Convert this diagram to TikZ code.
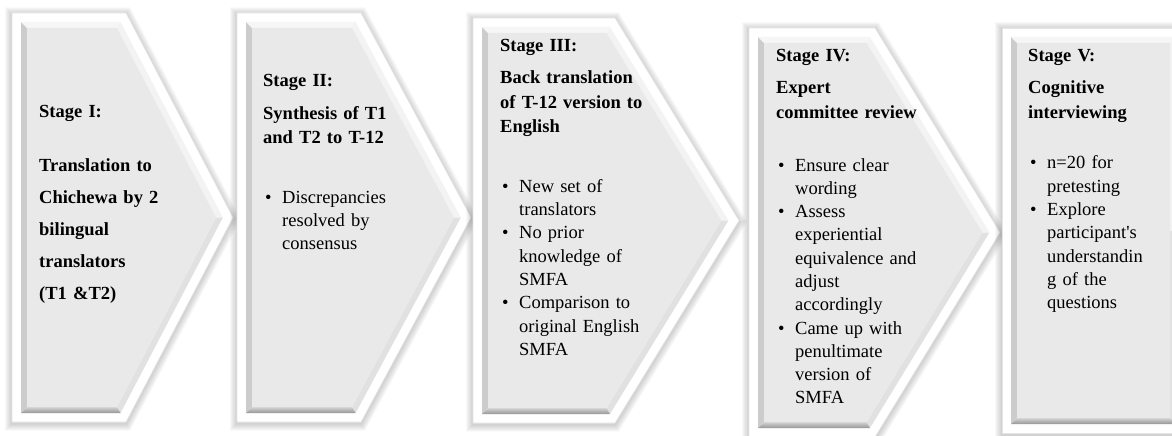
\documentclass[tikz,border=0pt]{standalone}
\usepackage{fontspec}
\setmainfont{Liberation Serif}
\definecolor{mainfill}{RGB}{233,233,233}
\definecolor{bevtop}{RGB}{246,246,246}
\definecolor{bevdiagup}{RGB}{243,243,243}
\definecolor{bevdiaglo}{RGB}{225,225,225}
\definecolor{bevleft}{RGB}{204,204,204}
\definecolor{bevbottop}{RGB}{212,212,212}
\definecolor{bevbotbot}{RGB}{150,150,150}
\newcommand\defpent[7]{%
 \pgfmathsetmacro\pM{(#3+#6)/2}%
 \pgfmathsetmacro\pdx{(#5-#4)/100}%
 \pgfmathsetmacro\pdy{(\pM-#3)/100}%
 \pgfmathsetmacro\plen{sqrt(\pdx*\pdx+\pdy*\pdy)}%
 \pgfmathsetmacro\pcx{#4+#7*(\pdx-\plen)/\pdy}%
 \pgfmathsetmacro\ptx{#5-#7*\plen/\pdy}%
 \coordinate (#1-1) at (#2+#7,#3+#7);%
 \coordinate (#1-2) at (\pcx,#3+#7);%
 \coordinate (#1-3) at (\ptx,\pM);%
 \coordinate (#1-4) at (\pcx,#6-#7);%
 \coordinate (#1-5) at (#2+#7,#6-#7);%
}
\newcommand\stageshape[6]{%
 \defpent{#1o}{#2}{#3}{#4}{#5}{#6}{0}%
 \defpent{#1g}{#2}{#3}{#4}{#5}{#6}{9}%
 \defpent{#1i}{#2}{#3}{#4}{#5}{#6}{15}%
 \foreach \w in {1,...,7}{%
   \pgfmathsetmacro\lw{2*\w}%
   \draw[black,opacity=0.028,line width=\lw pt,line join=miter]
     ([yshift=-1.5pt]#1o-1) -- ([yshift=-1.5pt]#1o-2) -- ([yshift=-1.5pt]#1o-3)
     -- ([yshift=-1.5pt]#1o-4) -- ([yshift=-1.5pt]#1o-5) -- cycle;}
 \fill[white] (#1o-1) -- (#1o-2) -- (#1o-3) -- (#1o-4) -- (#1o-5) -- cycle;
 \draw[black!10,line width=0.6pt] (#1o-1) -- (#1o-2) -- (#1o-3) -- (#1o-4) -- (#1o-5) -- cycle;
 \fill[bevleft] (#1g-5) -- (#1g-1) -- (#1i-1) -- (#1i-5) -- cycle;
 \fill[bevtop] (#1g-1) -- (#1g-2) -- (#1i-2) -- (#1i-1) -- cycle;
 \fill[bevdiagup] (#1g-2) -- (#1g-3) -- (#1i-3) -- (#1i-2) -- cycle;
 \fill[bevdiaglo] (#1g-3) -- (#1g-4) -- (#1i-4) -- (#1i-3) -- cycle;
 \shade[top color=bevbottop,bottom color=bevbotbot] (#1g-4) -- (#1g-5) -- (#1i-5) -- (#1i-4) -- cycle;
 \fill[mainfill] (#1i-1) -- (#1i-2) -- (#1i-3) -- (#1i-4) -- (#1i-5) -- cycle;
}
\newcommand\bul{\hspace*{2pt}\makebox[17pt][l]{\textbullet}}
\newcommand\ind{\hspace*{19pt}}
\begin{document}
\begin{tikzpicture}[x=1pt,y=-1pt,
  stagetext/.style={anchor=base west,inner sep=0pt,text width=230pt,align=left,
    font=\fontsize{18.5}{23.3}\selectfont}]
\useasboundingbox (0,0) rectangle (1172,436);
\stageshape{sa}{12}{13}{126}{233}{422}
\stageshape{sb}{237}{13}{361}{471}{422}
\stageshape{sc}{473}{18}{615}{739}{423}
\stageshape{sd}{749}{28}{875}{1000}{437}
\stageshape{se}{1002}{28}{1185}{1185}{433}
\node[stagetext,font=\fontsize{18.5}{32}\selectfont\bfseries] (t1) at (39,117)
 {Stage I:\\[22pt]Translation to\\Chichewa by 2\\bilingual\\translators\\(T1 \&T2)};
\node[stagetext] (t2) at (263,86)
 {\textbf{Stage II:}\\[9.7pt]\textbf{Synthesis of T1}\\[0.7pt]\textbf{and T2 to T-12}\\[36.7pt]%
  \bul Discrepancies\\\ind resolved by\\\ind consensus};
\node[stagetext] (t3) at (500,52)
 {\textbf{Stage III:}\\[8.7pt]\textbf{Back translation}\\[1.2pt]\textbf{of T-12 version to}\\[1.2pt]\textbf{English}\\[36pt]%
  \bul New set of\\\ind translators\\\bul No prior\\\ind knowledge of\\\ind SMFA\\%
  \bul Comparison to\\\ind original English\\\ind SMFA};
\node[stagetext] (t4) at (776,62)
 {\textbf{Stage IV:}\\[8.7pt]\textbf{Expert}\\[1.7pt]\textbf{committee review}\\[28.7pt]%
  \bul Ensure clear\\\ind wording\\\bul Assess\\\ind experiential\\\ind equivalence and\\%
  \ind adjust\\\ind accordingly\\\bul Came up with\\\ind penultimate\\\ind version of\\\ind SMFA};
\node[stagetext] (t5) at (1028,62)
 {\textbf{Stage V:}\\[8.7pt]\textbf{Cognitive}\\[1.7pt]\textbf{interviewing}\\[26.7pt]%
  \bul n=20 for\\\ind pretesting\\\bul Explore\\\ind participant\textquotesingle s\\%
  \ind understandin\\\ind g of the\\\ind questions};
\end{tikzpicture}
\end{document}
